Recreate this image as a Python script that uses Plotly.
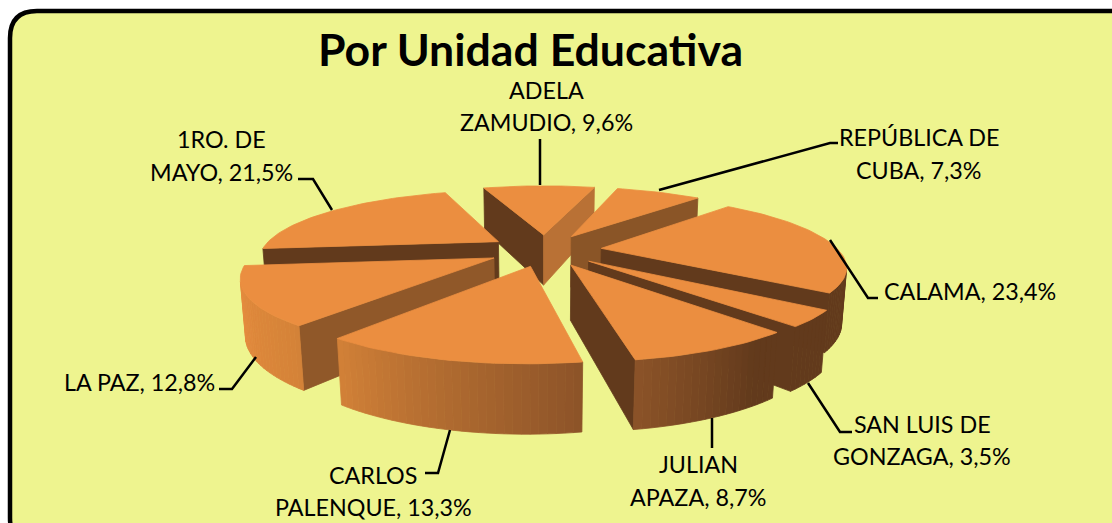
import math
import plotly.graph_objects as go

# ---- data ----
categories = ["ADELA ZAMUDIO", "REPÚBLICA DE CUBA", "CALAMA", "SAN LUIS DE GONZAGA",
              "JULIAN APAZA", "CARLOS PALENQUE", "LA PAZ", "1RO. DE MAYO"]
values = [9.6, 7.3, 23.4, 3.5, 8.7, 13.3, 12.8, 21.5]
label_line1 = ["ADELA", "REPÚBLICA DE", "CALAMA,", "SAN LUIS DE", "JULIAN", "CARLOS", "LA PAZ,", "1RO. DE"]
label_line2 = ["ZAMUDIO,", "CUBA,", "", "GONZAGA,", "APAZA,", "PALENQUE,", "", "MAYO,"]
title_text = "Por Unidad Educativa"

# ---- styles / layout ----
W, H_PX = 1112, 523
BG = "#EEF48F"
TOP = "#EB8E40"
CUT_STOPS = [(90, "#C97C3B"), (107, "#B87035"), (130, "#8C5628"), (170, "#623A1C"), (360, "#623A1C")]
OUTER_STOPS = [(0, "#623A1C"), (145, "#623A1C"), (172, "#8F5529"), (220, "#D58338"), (265, "#EB8E40"), (360, "#EB8E40")]
FONT = "Lato"
LABEL_SIZE = 23.3

# view parameters of the pseudo-3D pie
CX, CY, SCALE = 545, 250, 237
SIN_EL, COS_EL, PERSP = 0.28, 0.96, 0.228
HEIGHT, EXPLODE, ROT0 = 0.235, 0.24, -1.5


def proj(x, y, z):
    w = 1 + PERSP * y - PERSP * (z - HEIGHT) * SIN_EL / COS_EL
    v = y * SIN_EL + (z - HEIGHT) * COS_EL
    return CX + SCALE * x / w, CY - SCALE * v / w


def hexrgb(h):
    return tuple(int(h[i:i + 2], 16) for i in (1, 3, 5))


def ramp(stops, a):
    a %= 360
    for (a0, c0), (a1, c1) in zip(stops, stops[1:]):
        if a0 <= a <= a1:
            t = (a - a0) / (a1 - a0)
            r0, r1 = hexrgb(c0), hexrgb(c1)
            return "rgb(%d,%d,%d)" % tuple(round(p + (q - p) * t) for p, q in zip(r0, r1))
    return stops[0][1] if a < stops[0][0] else stops[-1][1]


def area(pts):
    return sum(p[0] * q[1] - q[0] * p[1] for p, q in zip(pts, pts[1:] + pts[:1]))


fig = go.Figure()


def poly(pts, color):
    fig.add_trace(go.Scatter(x=[p[0] for p in pts] + [pts[0][0]], y=[p[1] for p in pts] + [pts[0][1]],
                             mode="lines", fill="toself", fillcolor=color,
                             line=dict(color=color, width=0.8), hoverinfo="skip", showlegend=False))


total = sum(values)
starts, a = [], ROT0 - values[0] / total * 180
for val in values:
    starts.append(a)
    a += val / total * 360

slices = []
for val, s in zip(values, starts):
    e = s + val / total * 360
    slices.append((s, e, (s + e) / 2))

for s, e, m in sorted(slices, key=lambda t: -math.cos(math.radians(t[2]))):
    ox = EXPLODE * math.sin(math.radians(m))
    oy = EXPLODE * math.cos(math.radians(m))

    def pt(th, z, r=1.0):
        return proj(ox + r * math.sin(math.radians(th)), oy + r * math.cos(math.radians(th)), z)

    # cut faces
    q = [pt(s, 0, 0), pt(s, 0), pt(s, HEIGHT), pt(s, HEIGHT, 0)]
    if area(q) > 0:
        poly(q, ramp(CUT_STOPS, s - 90))
    q = [pt(e, 0), pt(e, 0, 0), pt(e, HEIGHT, 0), pt(e, HEIGHT)]
    if area(q) > 0:
        poly(q, ramp(CUT_STOPS, e + 90))
    # outer wall
    n = max(2, int((e - s) / 1.5))
    ths = [s + (e - s) * i / n for i in range(n + 1)]
    for t0, t1 in zip(ths, ths[1:]):
        q = [pt(t0, 0), pt(t1, 0), pt(t1, HEIGHT), pt(t0, HEIGHT)]
        if area(q) > 0:
            poly(q, ramp(OUTER_STOPS, (t0 + t1) / 2))
    # top face
    poly([pt(s, HEIGHT, 0)] + [pt(t, HEIGHT) for t in ths], TOP)

# labels: (x, y, anchor) for line 1, line-2 y
label_pos = [(546, 90, 122, "center"), (919, 137, 170, "center"), (882, 291, None, "left"),
             (922, 424, 456, "center"), (698, 464, 497, "center"), (373, 475, 507, "center"),
             (139, 382, None, "center"), (221, 139, 172, "center")]
leaders = [[(540, 139), (540, 185)],
           [(659, 190), (830, 143), (838, 143)],
           [(830, 240), (868, 298), (878, 298)],
           [(808, 383), (840, 432), (852, 432)],
           [(712, 418), (712, 448)],
           [(450, 430), (438, 473), (425, 473)],
           [(256, 357), (232, 389), (219, 389)],
           [(332, 210), (313, 179), (298, 179)]]

annos = []
for l1, l2, val, (x, y1, y2, anc) in zip(label_line1, label_line2, values, label_pos):
    pct = f"{val:.1f}%".replace(".", ",")
    if y2 is None:
        lines = [(f"{l1} {pct}", y1)]
    else:
        lines = [(l1, y1), (f"{l2} {pct}", y2)]
    for txt, y in lines:
        annos.append(dict(x=x, y=y, xref="x", yref="y", text=txt, showarrow=False, xanchor=anc, yanchor="middle",
                          font=dict(family=FONT, size=LABEL_SIZE, color="#000000")))
annos.append(dict(x=530, y=48, xref="x", yref="y", text=f"<b>{title_text}</b>", showarrow=False,
                  xanchor="center", yanchor="middle", font=dict(family=FONT, size=44.6, color="#000000")))

shapes = [dict(type="path", layer="below", xref="x", yref="y",
               path="M 10 38 Q 10 11 37 11 L 1140 11 L 1140 545 L 37 545 Q 10 545 10 518 Z",
               fillcolor=BG, line=dict(color="#000000", width=4.5))]
for pts in leaders:
    shapes.append(dict(type="path", layer="above", xref="x", yref="y",
                       path="M " + " L ".join(f"{x} {y}" for x, y in pts),
                       line=dict(color="#000000", width=2.5)))

fig.update_layout(
    width=W, height=H_PX, margin=dict(l=0, r=0, t=0, b=0), paper_bgcolor="#FFFFFF", plot_bgcolor="rgba(0,0,0,0)",
    xaxis=dict(range=[0, W], visible=False, fixedrange=True),
    yaxis=dict(range=[H_PX, 0], visible=False, fixedrange=True),
    shapes=shapes, annotations=annos, showlegend=False)
fig.write_html("out.html", config=dict(displayModeBar=False),
               post_script="document.body.style.margin='0';document.documentElement.style.overflow='hidden';")
